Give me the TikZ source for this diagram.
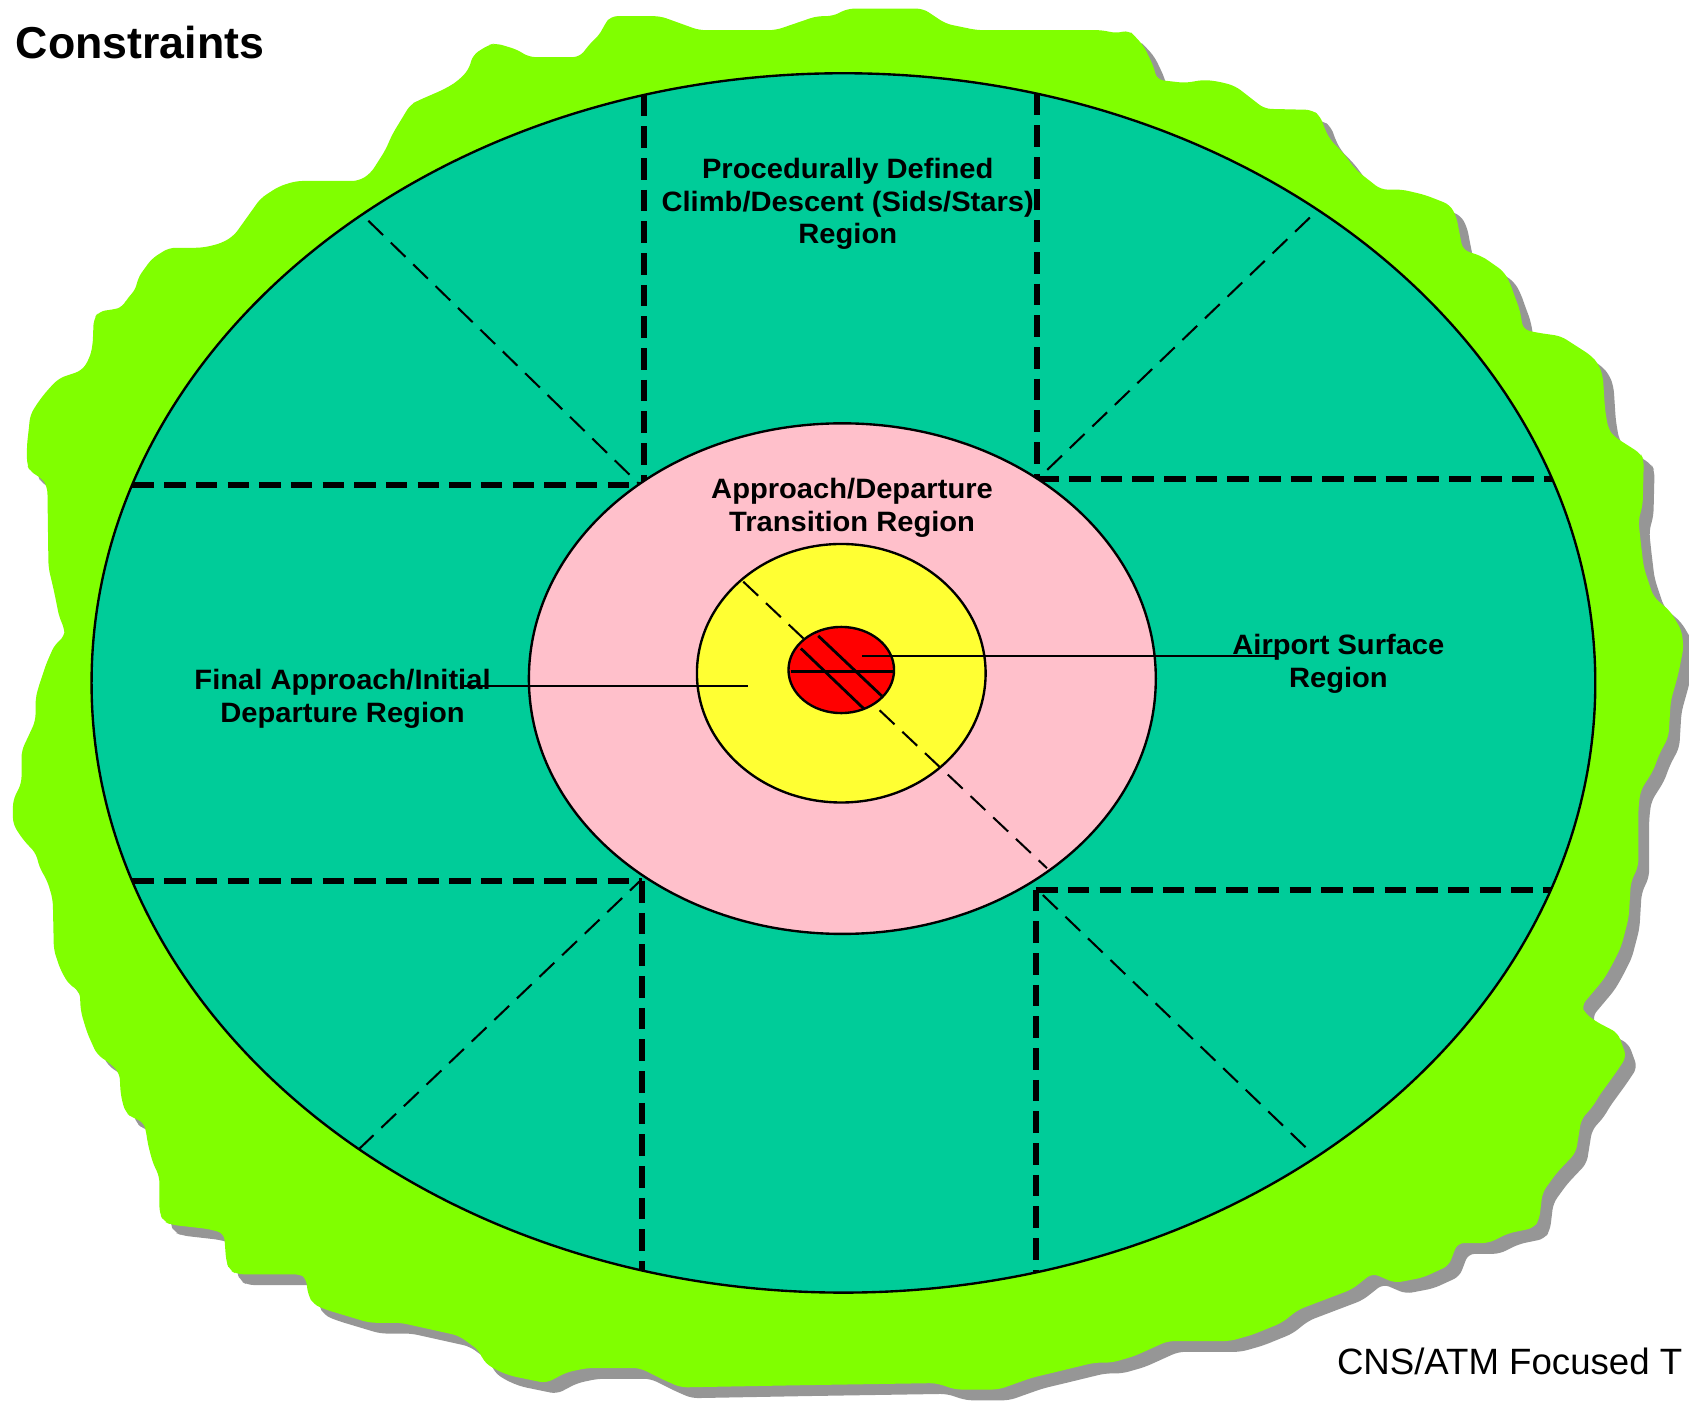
\documentclass[tikz,border=0pt]{standalone}
\usepackage{fontspec}
\setmainfont{Liberation Sans}
\newfontfamily\lblfont{Liberation Sans}[FakeStretch=1.04]
\definecolor{limeg}{HTML}{80FF00}
\definecolor{tealg}{HTML}{00CC99}
\definecolor{pinkr}{HTML}{FFC0CB}
\definecolor{yell}{HTML}{FFFF33}
\definecolor{redr}{HTML}{FF0000}
\definecolor{shad}{HTML}{969696}
\tikzset{
  ring/.style={draw=black, line width=2.2pt},
  thickdash/.style={draw=black, line width=5.5pt, dash pattern=on 20pt off 9.4pt},
  thindash/.style={draw=black, line width=1.9pt, dash pattern=on 19pt off 10pt},
  leader/.style={draw=black, line width=2pt},
  redline/.style={draw=black, line width=2.6pt},
  lbl/.style={font=\lblfont\bfseries\fontsize{26}{30.5}\selectfont, align=center, inner sep=0pt, anchor=base},
}
\def\blobpath{(439,51) -- (453,42) -- (460,40) -- (480,46) -- (491,53) -- (538,53) -- (549,39) -- (557,32) -- (561,23) -- (567,15) -- (613,15) -- (649,28) -- (720,28) -- (758,15) -- (773,15) -- (787,8) -- (857,8) -- (878,22) -- (907,28) -- (1024,28) -- (1036,31) -- (1048,28) -- (1054,34) -- (1062,43) -- (1071,62) -- (1074,74) -- (1100,77) -- (1118,74) -- (1133,76) -- (1147,80) -- (1174,101) -- (1218,102) -- (1226,108) -- (1229,118) -- (1235,130) -- (1247,142) -- (1259,158) -- (1282,176) -- (1302,176) -- (1323,181) -- (1346,190) -- (1352,201) -- (1355,217) -- (1358,232) -- (1376,238) -- (1396,252) -- (1402,263) -- (1405,272) -- (1411,288) -- (1414,306) -- (1428,309) -- (1449,312) -- (1477,330) -- (1484,338) -- (1488,349) -- (1490,380) -- (1493,398) -- (1498,405) -- (1523,421) -- (1526,427) -- (1525,469) -- (1521,483) -- (1523,502) -- (1526,527) -- (1535,554) -- (1551,568) -- (1561,585) -- (1563,601) -- (1558,626) -- (1551,651) -- (1549,684) -- (1540,701) -- (1535,715) -- (1523,734) -- (1521,750) -- (1521,804) -- (1514,819) -- (1512,852) -- (1505,879) -- (1497,895) -- (1489,909) -- (1468,934) -- (1471,940) -- (1481,948) -- (1502,959) -- (1510,981) -- (1500,996) -- (1484,1018) -- (1479,1027) -- (1468,1039) -- (1463,1070) -- (1445,1089) -- (1432,1107) -- (1429,1132) -- (1424,1140) -- (1400,1145) -- (1382,1154) -- (1353,1154) -- (1345,1175) -- (1321,1186) -- (1295,1191) -- (1274,1182) -- (1255,1197) -- (1205,1216) -- (1190,1228) -- (1163,1239) -- (1142,1245) -- (1084,1245) -- (1053,1259) -- (1032,1265) -- (1016,1265) -- (979,1274) -- (958,1279) -- (927,1290) -- (887,1290) -- (869,1284) -- (742,1286) -- (632,1288) -- (616,1281) -- (594,1270) -- (545,1270) -- (526,1274) -- (507,1284) -- (473,1277) -- (459,1271) -- (449,1264) -- (445,1254) -- (426,1240) -- (372,1228) -- (343,1228) -- (303,1216) -- (291,1211) -- (286,1202) -- (284,1186) -- (279,1183) -- (220,1183) -- (213,1179) -- (210,1171) -- (208,1145) -- (194,1141) -- (159,1137) -- (152,1134) -- (148,1126) -- (148,1092) -- (142,1080) -- (137,1061) -- (136,1052) -- (133,1041) -- (123,1038) -- (116,1032) -- (112,1016) -- (111,996) -- (102,987) -- (90,979) -- (81,959) -- (75,939) -- (74,920) -- (64,914) -- (56,900) -- (50,882) -- (49,835) -- (44,818) -- (36,804) -- (34,793) -- (21,779) -- (12,765) -- (12,743) -- (20,727) -- (20,697) -- (28,680) -- (33,669) -- (33,648) -- (36,637) -- (43,616) -- (51,598) -- (60,591) -- (60,584) -- (55,573) -- (50,548) -- (45,527) -- (44,452) -- (39,444) -- (28,438) -- (25,431) -- (25,413) -- (27,396) -- (28,385) -- (37,371) -- (46,360) -- (55,351) -- (76,344) -- (83,333) -- (86,321) -- (87,296) -- (92,289) -- (107,287) -- (114,285) -- (118,277) -- (126,269) -- (128,258) -- (141,240) -- (157,230) -- (188,230) -- (205,226) -- (217,219) -- (242,184) -- (259,173) -- (275,168) -- (333,168) -- (344,161) -- (358,139) -- (364,125) -- (381,97) -- (389,93) -- (412,83) -- (424,76) -- (435,65) -- cycle}
\begin{document}
\begin{tikzpicture}[x=1pt,y=-1pt]
\useasboundingbox (0,0) rectangle (1568,1303.4);
% shadow and blob
\fill[shad, rounded corners=6pt, shift={(10,10)}] \blobpath;
\fill[limeg, rounded corners=6pt] \blobpath;
% outer region
\filldraw[fill=tealg, ring] (783,634) ellipse [x radius=698, y radius=566];
% sector boundaries
\draw[thickdash] (598,88) -- (598,450);
\draw[thickdash] (123,450) -- (598,450);
\draw[thickdash] (963,87) -- (963,445);
\draw[thickdash] (963,445) -- (1441,445);
\draw[thickdash] (123,818) -- (596,818);
\draw[thickdash] (596,818) -- (596,1179);
\draw[thickdash] (962,826) -- (1440,826);
\draw[thickdash] (962,826) -- (962,1181);
\draw[thindash] (342,205) -- (594,450);
\draw[thindash] (1216,202) -- (963,445);
\draw[thindash] (333,1067) -- (594,818);
\draw[thindash] (1212,1065) -- (963,826);
% inner regions
\filldraw[fill=pinkr, ring] (782,630) ellipse [x radius=291, y radius=237];
\filldraw[fill=yell, ring] (781,625) ellipse [x radius=134, y radius=120];
\draw[thindash] (690,540) -- (972,806);
\filldraw[fill=redr, ring] (781,622) ellipse [x radius=49, y radius=40];
\draw[redline] (734,623.7) -- (829,623.7);
\draw[redline] (759.6,590.3) -- (818.5,646);
\draw[redline] (743.5,602) -- (802,658);
% leaders
\coordinate (fa) at (430,637);
\coordinate (faend) at (694,637);
\coordinate (as) at (1186,609);
\coordinate (asend) at (800,609);
\draw[leader] (fa) -- (faend);
\draw[leader] (as) -- (asend);
% labels (anchor base = baseline of last line)
\node[lbl] (proc) at (787,226.5) {Procedurally Defined\\Climb/Descent (Sids/Stars)\\Region};
\node[lbl] (appr) at (791,493.5) {Approach/Departure\\Transition Region};
\node[lbl] (final) at (318,670.5) {Final Approach/Initial\\Departure Region};
\node[lbl] (airp) at (1242.5,638) {Airport Surface\\Region};
\node[font=\bfseries\fontsize{41.5}{48}\selectfont, inner sep=0pt, anchor=base west] (title) at (14.5,54.1) {Constraints};
\node[font=\fontsize{34}{39}\selectfont, inner sep=0pt, anchor=base west] (foot) at (1241,1276) {CNS/ATM Focused T};
\end{tikzpicture}
\end{document}
